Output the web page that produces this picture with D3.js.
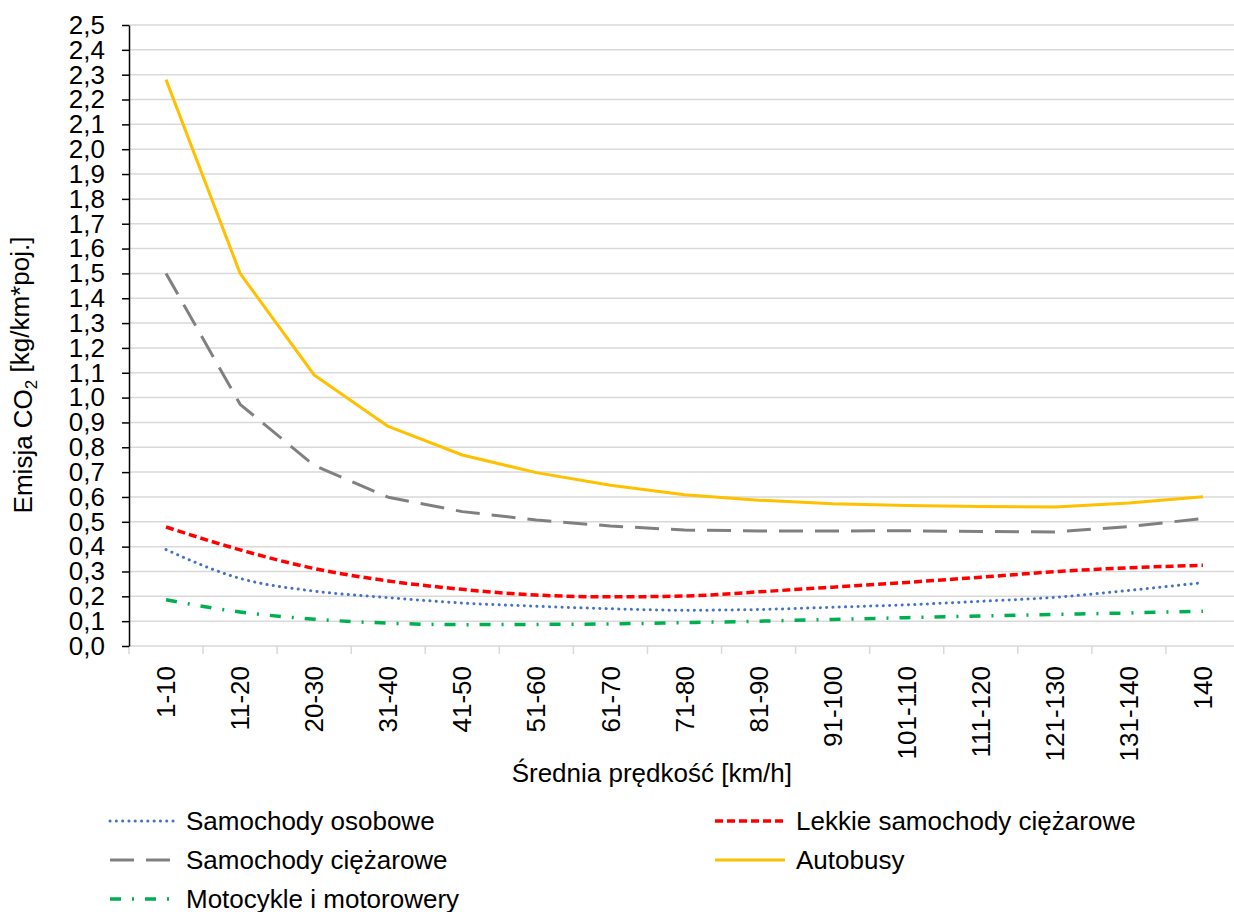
<!DOCTYPE html>
<html><head><meta charset="utf-8">
<script src="https://cdn.jsdelivr.net/npm/d3@7"></script>
<style>body{margin:0;background:#fff}svg{display:block}text{font-family:"Liberation Sans",Arial,sans-serif;fill:#000}</style>
</head><body><svg id="c" width="1234" height="912"></svg>
<script>
const categories = ["1-10","11-20","20-30","31-40","41-50","51-60","61-70","71-80","81-90","91-100","101-110","111-120","121-130","131-140","140"];
const samochodyOsobowe = [0.388,0.272,0.221,0.195,0.173,0.160,0.150,0.144,0.147,0.156,0.166,0.180,0.196,0.224,0.255];
const lekkieSamochodyCiezarowe = [0.479,0.387,0.312,0.262,0.228,0.205,0.198,0.201,0.218,0.237,0.256,0.277,0.299,0.315,0.325];
const samochodyCiezarowe = [1.50,0.973,0.727,0.599,0.541,0.507,0.483,0.467,0.463,0.463,0.464,0.461,0.459,0.481,0.513];
const autobusy = [2.28,1.50,1.091,0.884,0.769,0.698,0.647,0.609,0.587,0.573,0.566,0.562,0.560,0.576,0.601];
const motocykle = [0.186,0.137,0.108,0.092,0.086,0.087,0.089,0.094,0.100,0.107,0.114,0.121,0.127,0.133,0.140];
const yTicks = d3.range(0, 26).map(i => i / 10);
const seriesNames = ["Samochody osobowe","Lekkie samochody ciężarowe","Samochody ciężarowe","Autobusy","Motocykle i motorowery"];

(function () {
const FS = "26px";
const series = [
  {name: seriesNames[0], values: samochodyOsobowe, color: "#4472C4", width: 3, dash: "0.1,6.2", cap: "round", curve: d3.curveMonotoneX},
  {name: seriesNames[1], values: lekkieSamochodyCiezarowe, color: "#FF0000", width: 3.5, dash: "8,4", cap: "butt", curve: d3.curveMonotoneX},
  {name: seriesNames[2], values: samochodyCiezarowe, color: "#808080", width: 3, dash: "24,12", cap: "butt", curve: d3.curveLinear},
  {name: seriesNames[3], values: autobusy, color: "#FFC000", width: 3, dash: null, cap: "butt", curve: d3.curveLinear},
  {name: seriesNames[4], values: motocykle, color: "#00B050", width: 3.5, dash: "11,11,2,11", cap: "butt", curve: d3.curveMonotoneX}
];

const svg = d3.select("#c");
const pLeft = 129, pRight = 1240, pTop = 25, pBottom = 646;
const x = d3.scaleBand().domain(categories).range([pLeft, pRight]).padding(0);
const xc = c => x(c) + x.bandwidth() / 2;
const y = d3.scaleLinear().domain([0, 2.5]).range([pBottom, pTop]);

// gridlines
svg.append("g").selectAll("line").data(yTicks.slice(1)).join("line")
  .attr("x1", pLeft).attr("x2", pRight).attr("y1", d => y(d)).attr("y2", d => y(d))
  .attr("stroke", "#D9D9D9").attr("stroke-width", 1.5);

// x axis
const xg = svg.append("g").attr("transform", `translate(0,${pBottom})`);
xg.append("line").attr("x1", pLeft).attr("x2", pRight).attr("stroke", "#D9D9D9").attr("stroke-width", 1.5);
xg.selectAll("line.t").data(categories).join("line").attr("class","t")
  .attr("x1", d => x(d)).attr("x2", d => x(d)).attr("y1", 0).attr("y2", 8)
  .attr("stroke", "#D9D9D9").attr("stroke-width", 1.5);
xg.selectAll("text").data(categories).join("text")
  .attr("transform", d => `translate(${xc(d)},20) rotate(-90)`)
  .attr("text-anchor", "end").attr("dy", "0.35em")
  .style("font-size", FS).text(d => d);

// y axis
const yAxis = d3.axisLeft(y).tickValues(yTicks).tickSize(7).tickSizeOuter(0)
  .tickFormat(d => d.toFixed(1).replace(".", ","));
const yg = svg.append("g").attr("transform", `translate(${pLeft},0)`).call(yAxis);
yg.select(".domain").attr("stroke", "#000").attr("stroke-width", 1.5);
yg.selectAll(".tick line").attr("stroke", "#000").attr("stroke-width", 1.5);
yg.selectAll(".tick text").attr("x", -24).style("font-size", FS)
  .style("font-family", '"Liberation Sans",Arial,sans-serif').attr("fill", "#000");

// lines
series.forEach(s => {
  const line = d3.line().x((d, i) => xc(categories[i])).y(d => y(d)).curve(s.curve);
  svg.append("path").datum(s.values).attr("d", line)
    .attr("fill", "none").attr("stroke", s.color).attr("stroke-width", s.width)
    .attr("stroke-dasharray", s.dash).attr("stroke-linecap", s.cap).attr("stroke-linejoin", "round");
});

// axis titles
svg.append("text").attr("x", 792).attr("y", 782).attr("text-anchor", "end")
  .style("font-size", FS).text("Średnia prędkość [km/h]");
const yt = svg.append("text").attr("transform", "translate(32,375) rotate(-90)")
  .attr("text-anchor", "middle").style("font-size", FS);
yt.append("tspan").text("Emisja CO");
yt.append("tspan").attr("dy", "0.3em").style("font-size", "17px").text("2");
yt.append("tspan").attr("dy", "-0.3em").text(" [kg/km*poj.]");

// legend
const legendPos = [
  {x: 110, y: 821}, {x: 715, y: 821},
  {x: 110, y: 860}, {x: 715, y: 860},
  {x: 110, y: 899}
];
series.forEach((s, i) => {
  const p = legendPos[i];
  const lw = i % 2 === 0 ? 65 : 70;
  const g = svg.append("g");
  g.append("line").attr("x1", p.x).attr("x2", p.x + lw).attr("y1", p.y).attr("y2", p.y)
    .attr("stroke", s.color).attr("stroke-width", s.width)
    .attr("stroke-dasharray", s.dash).attr("stroke-linecap", s.cap);
  g.append("text").attr("x", p.x + lw + 11).attr("y", p.y).attr("dy", "0.35em")
    .style("font-size", FS).text(s.name);
});
})();
</script></body></html>
